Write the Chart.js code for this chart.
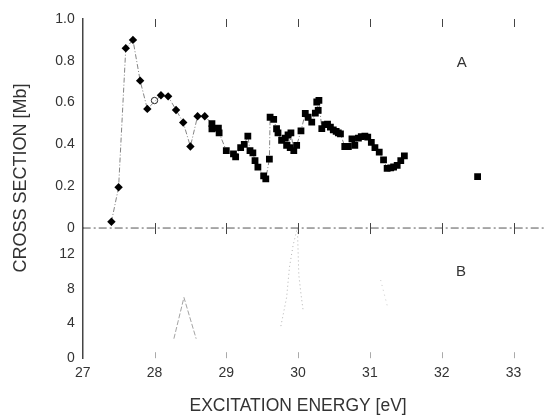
<!DOCTYPE html>
<html>
<head>
<meta charset="utf-8">
<script src="https://cdn.jsdelivr.net/npm/chart.js@4.4.1/dist/chart.umd.min.js"></script>
<style>
  html, body { margin: 0; padding: 0; background: #fff; }
</style>
</head>
<body>
<canvas id="chart" width="546" height="417"></canvas>
<script>
// panel A: cross section [Mb] vs excitation energy [eV]
const energyA = [27.40, 27.50, 27.60, 27.70, 27.80, 27.90, 28.09, 28.19, 28.30, 28.40,
                 28.50, 28.60, 28.70, 28.80, 28.80, 28.89, 28.90, 29.00, 29.10, 29.13,
                 29.20, 29.25, 29.30, 29.33, 29.37, 29.40, 29.44, 29.52, 29.55, 29.60,
                 29.61, 29.66, 29.70, 29.72, 29.77, 29.82, 29.84, 29.86, 29.89, 29.90,
                 29.94, 29.98, 30.04, 30.10, 30.14, 30.19, 30.24, 30.26, 30.28, 30.29,
                 30.33, 30.37, 30.41, 30.45, 30.49, 30.53, 30.56, 30.59, 30.65, 30.70,
                 30.75, 30.79, 30.84, 30.88, 30.93, 30.97, 31.02, 31.07, 31.13, 31.19,
                 31.24, 31.29, 31.33, 31.38, 31.43, 31.48];
const sectionA = [0.03, 0.195, 0.86, 0.90, 0.705, 0.57, 0.635, 0.63, 0.565, 0.505,
                  0.39, 0.535, 0.535, 0.50, 0.475, 0.478, 0.455, 0.37, 0.355, 0.34,
                  0.385, 0.40, 0.44, 0.37, 0.36, 0.323, 0.291, 0.25, 0.235, 0.33,
                  0.53, 0.52, 0.475, 0.455, 0.42, 0.43, 0.395, 0.445, 0.385, 0.455,
                  0.37, 0.395, 0.465, 0.548, 0.53, 0.507, 0.55, 0.603, 0.563, 0.611,
                  0.476, 0.495, 0.497, 0.483, 0.47, 0.462, 0.455, 0.45, 0.39, 0.39,
                  0.427, 0.395, 0.43, 0.437, 0.44, 0.435, 0.41, 0.385, 0.363, 0.326,
                  0.285, 0.288, 0.292, 0.30, 0.322, 0.345];
const circleE = [28.00];
const circleV = [0.61];
const loneE = [32.50];
const loneV = [0.246];
const zeroE = [27, 33.45];
const zeroV = [0, 0];

// panel B
const peak1E = [28.27, 28.41, 28.58];
const peak1V = [2.25, 7.0, 2.25];
const peak2E = [29.76, 29.84, 29.88, 29.93, 29.99, 30.01, 30.04, 30.07];
const peak2V = [3.7, 7.0, 10.5, 13.0, 15.0, 9.6, 7.4, 5.5];
const peak3E = [31.15, 31.24];
const peak3V = [9.0, 6.1];

const xTicks = [27, 28, 29, 30, 31, 32, 33];
const yTicksA = [0, 0.2, 0.4, 0.6, 0.8, 1.0];
const yLabelsA = ["0", "0.2", "0.4", "0.6", "0.8", "1.0"];
const yTicksB = [0, 4, 8, 12];

const FONT = '"Liberation Sans", Arial, sans-serif';
const INK = '#333';

const pts = (xs, ys) => xs.map((x, i) => ({ x: x, y: ys[i] }));

const decor = {
    id: 'decor',
    afterDatasetsDraw(chart) {
        const { ctx, chartArea, scales: { x, yA, yB } } = chart;
        const mid = yA.getPixelForValue(0);
        ctx.save();
        ctx.lineWidth = 1;
        xTicks.slice(1).forEach(v => {
            const px = Math.round(x.getPixelForValue(v)) + 0.5;
            ctx.strokeStyle = '#444';
            ctx.beginPath();
            ctx.moveTo(px, chartArea.top); ctx.lineTo(px, chartArea.top + 8);
            ctx.moveTo(px, mid - 5); ctx.lineTo(px, mid + 6);
            ctx.stroke();
            ctx.strokeStyle = '#aaa';
            ctx.beginPath();
            ctx.moveTo(px, chartArea.bottom - 6); ctx.lineTo(px, chartArea.bottom);
            ctx.stroke();
        });

        ctx.fillStyle = INK;
        ctx.font = '15px ' + FONT;
        ctx.textAlign = 'center';
        ctx.textBaseline = 'middle';
        ctx.fillText('A', x.getPixelForValue(32.28), yA.getPixelForValue(0.79));
        ctx.fillText('B', x.getPixelForValue(32.27), yB.getPixelForValue(9.9));

        ctx.translate(21, chartArea.top + 159);
        ctx.rotate(-Math.PI / 2);
        ctx.font = '18px ' + FONT;
        ctx.fillText('CROSS SECTION [Mb]', 0, 0);
        ctx.restore();
    }
};

const yCommon = {
    type: 'linear',
    position: 'left',
    stack: 'v',
    afterFit: s => { s.width = 82.7; },
    grid: { display: false, drawTicks: false },
    border: { display: true, color: '#444', width: 1.5 },
    ticks: { padding: 8, color: INK, font: { family: FONT, size: 14 } }
};

new Chart(document.getElementById('chart'), {
    type: 'line',
    data: {
        datasets: [
            {
                data: pts(zeroE, zeroV), yAxisID: 'yA', clip: false,
                borderColor: '#555', borderWidth: 1, borderDash: [8, 3, 2, 3], pointRadius: 0
            },
            {
                data: pts(peak1E, peak1V), yAxisID: 'yB',
                borderColor: '#999', borderWidth: 0.9, borderDash: [5, 2], pointRadius: 0
            },
            {
                data: pts(peak2E, peak2V), yAxisID: 'yB',
                borderColor: '#aaa', borderWidth: 0.9, borderDash: [1, 3], pointRadius: 0
            },
            {
                data: pts(peak3E, peak3V), yAxisID: 'yB',
                borderColor: '#bbb', borderWidth: 0.8, borderDash: [1, 4], pointRadius: 0
            },
            {
                data: pts(energyA, sectionA), yAxisID: 'yA',
                borderColor: '#666', borderWidth: 0.8, borderDash: [5, 2, 1, 2],
                pointStyle: c => energyA[c.dataIndex] < 28.75 ? 'rectRot' : 'rect',
                pointRadius: c => energyA[c.dataIndex] < 28.75 ? 4.2 : 4.8,
                pointBackgroundColor: '#000', pointBorderWidth: 0
            },
            {
                data: pts(circleE, circleV), yAxisID: 'yA', showLine: false,
                pointStyle: 'circle', pointRadius: 3.2,
                pointBackgroundColor: '#fff', pointBorderColor: '#222', pointBorderWidth: 1
            },
            {
                data: pts(loneE, loneV), yAxisID: 'yA', showLine: false,
                pointStyle: 'rect', pointRadius: 4.8,
                pointBackgroundColor: '#000', pointBorderWidth: 0
            }
        ]
    },
    options: {
        responsive: false,
        animation: false,
        layout: { padding: { top: 19, right: 32.5, left: 0, bottom: 0 } },
        plugins: { legend: { display: false }, tooltip: { enabled: false } },
        scales: {
            x: {
                type: 'linear', min: 27, max: 33,
                afterBuildTicks: s => { s.ticks = xTicks.map(v => ({ value: v })); },
                grid: { display: false, drawTicks: false },
                border: { display: false },
                ticks: { padding: 7, color: INK, font: { family: FONT, size: 14 }, callback: v => String(v) },
                title: {
                    display: true, text: 'EXCITATION ENERGY [eV]', color: INK,
                    font: { family: FONT, size: 17.5 }, padding: { top: 7, bottom: 0 }
                }
            },
            yB: Object.assign({}, yCommon, {
                min: 0, max: 15, stackWeight: 1,
                afterBuildTicks: s => { s.ticks = yTicksB.map(v => ({ value: v })); }
            }),
            yA: Object.assign({}, yCommon, {
                min: 0, max: 1, stackWeight: 1.606,
                afterBuildTicks: s => { s.ticks = yTicksA.map(v => ({ value: v })); },
                ticks: Object.assign({}, yCommon.ticks, {
                    callback: v => yLabelsA[yTicksA.indexOf(v)]
                })
            })
        }
    },
    plugins: [decor]
});
</script>
</body>
</html>
